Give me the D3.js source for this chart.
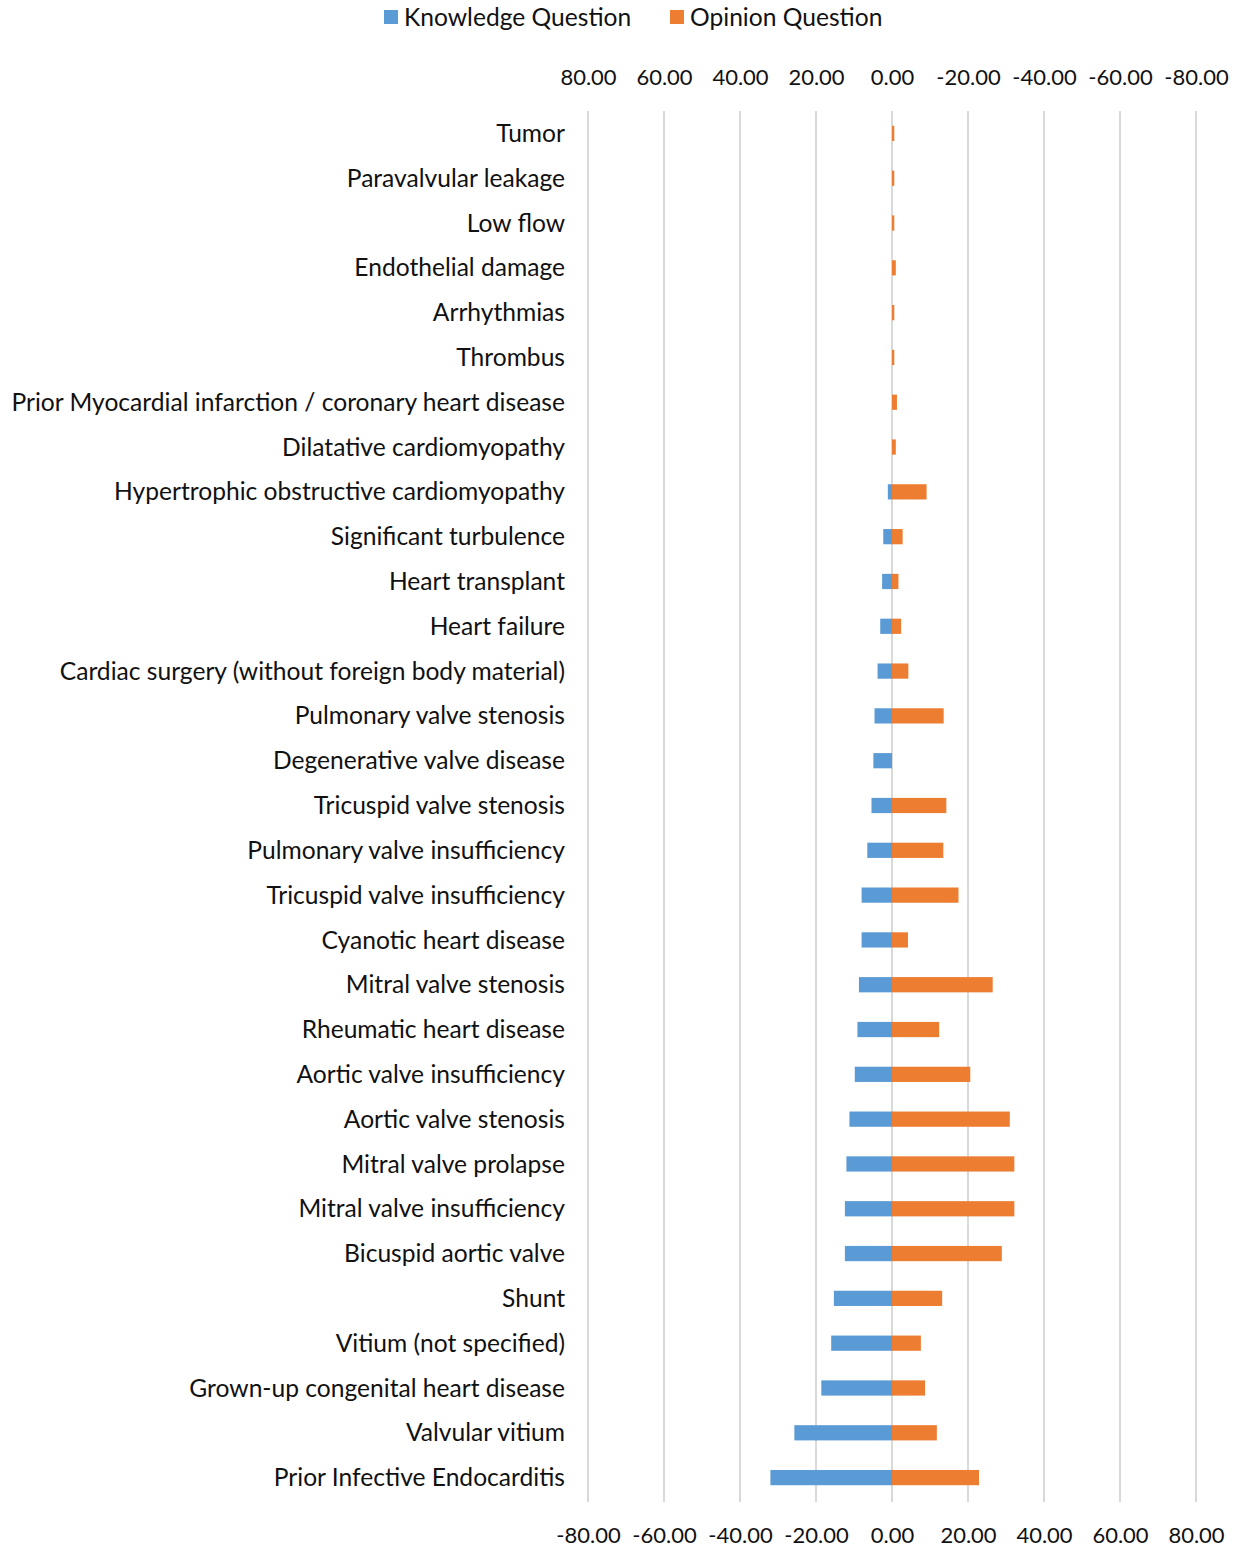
<!DOCTYPE html>
<meta charset="utf-8">
<style>
body {margin: 0; background: white;}
text {font-family: Lato, "Open Sans", sans-serif; fill: #111;}
.grid line {stroke: #d9d9d9; stroke-width: 2px;}
.axis path, .axis line {display: none;}
.axis text {font-size: 22px;}
.cat {font-size: 24.6px;}
</style>
<body>
<script src="https://d3js.org/d3.v7.min.js"></script>
<script>
var width = 1241, height = 1550
var categories = ["Tumor", "Paravalvular leakage", "Low flow", "Endothelial damage",
  "Arrhythmias", "Thrombus", "Prior Myocardial infarction / coronary heart disease",
  "Dilatative cardiomyopathy", "Hypertrophic obstructive cardiomyopathy",
  "Significant turbulence", "Heart transplant", "Heart failure",
  "Cardiac surgery (without foreign body material)", "Pulmonary valve stenosis",
  "Degenerative valve disease", "Tricuspid valve stenosis", "Pulmonary valve insufficiency",
  "Tricuspid valve insufficiency", "Cyanotic heart disease", "Mitral valve stenosis",
  "Rheumatic heart disease", "Aortic valve insufficiency", "Aortic valve stenosis",
  "Mitral valve prolapse", "Mitral valve insufficiency", "Bicuspid aortic valve",
  "Shunt", "Vitium (not specified)", "Grown-up congenital heart disease",
  "Valvular vitium", "Prior Infective Endocarditis"]
// knowledge drawn to the left (negative), opinion to the right
var knowledge = [0, 0, 0, 0, 0, 0, 0, 0, -1.1, -2.3, -2.6, -3.1, -3.8, -4.6, -4.9,
  -5.4, -6.5, -8.0, -8.0, -8.7, -9.1, -9.8, -11.2, -12.0, -12.4, -12.4,
  -15.3, -16.0, -18.6, -25.7, -32.0]
var opinion = [0.6, 0.6, 0.6, 1.0, 0.6, 0.6, 1.3, 1.0, 9.1, 2.8, 1.7, 2.4, 4.3, 13.6, 0,
  14.3, 13.5, 17.5, 4.2, 26.5, 12.4, 20.6, 31.0, 32.2, 32.2, 28.9,
  13.2, 7.6, 8.7, 11.8, 22.9]
var ticks = [-80, -60, -40, -20, 0, 20, 40, 60, 80]
var seriesNames = ["Knowledge Question", "Opinion Question"]
var colors = ["#5b9bd5", "#ed7d31"]

var fmt = d => d3.format(".2f")(d).replace("\u2212", "-")
var x = d3.scaleLinear().domain([-80, 80]).range([588, 1196])
var xTop = d3.scaleLinear().domain([80, -80]).range([588, 1196])
var y = d3.scaleBand().domain(categories).range([111, 1500]).paddingInner(0.66).paddingOuter(0.33)

var svg = d3.select("body").append("svg")
  .attr("width", width).attr("height", height)

svg.append("g").attr("class", "grid")
  .selectAll("line").data(ticks).enter().append("line")
  .attr("x1", d => x(d)).attr("x2", d => x(d))
  .attr("y1", 111).attr("y2", 1502)

var bars = svg.append("g")
bars.selectAll(".kn").data(knowledge).enter().append("rect")
  .attr("x", d => x(Math.min(0, d))).attr("width", d => Math.abs(x(d) - x(0)))
  .attr("y", (d, i) => y(categories[i])).attr("height", y.bandwidth())
  .attr("fill", colors[0])
bars.selectAll(".op").data(opinion).enter().append("rect")
  .attr("x", x(0)).attr("width", d => x(d) - x(0))
  .attr("y", (d, i) => y(categories[i])).attr("height", y.bandwidth())
  .attr("fill", colors[1])

svg.append("g").attr("class", "axis")
  .attr("transform", "translate(0,88)")
  .call(d3.axisTop(xTop).tickValues(ticks).tickSize(0).tickFormat(fmt))
svg.append("g").attr("class", "axis")
  .attr("transform", "translate(0,1524)")
  .call(d3.axisBottom(x).tickValues(ticks).tickSize(0).tickFormat(fmt))
svg.selectAll(".axis").attr("font-family", null).attr("font-size", null)

svg.append("g").selectAll("text").data(categories).enter().append("text")
  .attr("class", "cat")
  .attr("x", 565).attr("y", d => y(d) + y.bandwidth() / 2)
  .attr("dy", "0.35em").attr("text-anchor", "end")
  .text(d => d)

var legend = svg.append("g").selectAll("g").data(seriesNames).enter().append("g")
  .attr("transform", (d, i) => "translate(" + [384, 670][i] + ",10)")
legend.append("rect").attr("width", 14).attr("height", 14).attr("fill", (d, i) => colors[i])
legend.append("text").attr("x", 20).attr("y", 7).attr("dy", "0.35em")
  .style("font-size", "24.6px").text(d => d)
</script>
